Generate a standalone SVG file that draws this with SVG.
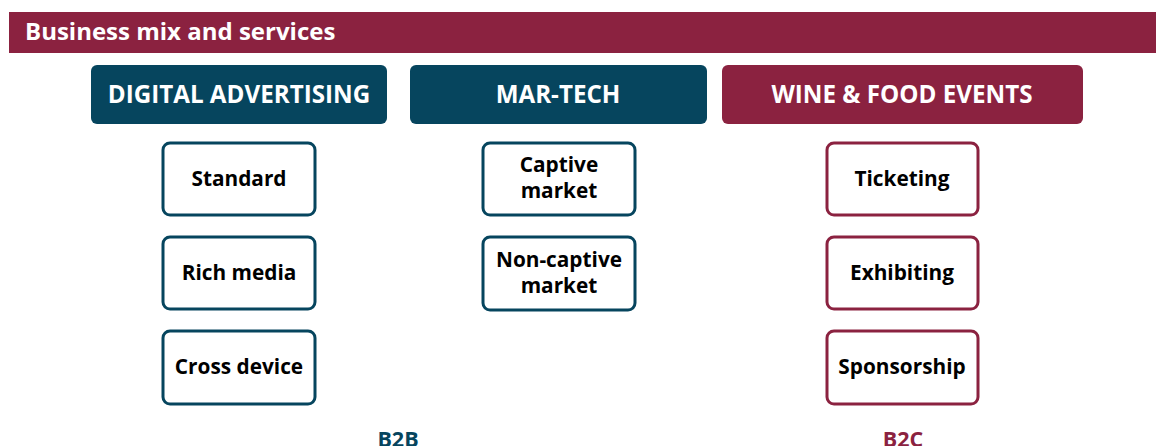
<svg xmlns="http://www.w3.org/2000/svg" width="1156" height="446" viewBox="0 0 1156 446">
  <style>
    text { font-family: "Open Sans", Lato, "Liberation Sans", sans-serif; font-weight: bold; }
    .title { fill: #ffffff; font-size: 24px; }
    .head-text { fill: #ffffff; font-size: 24.2px; text-anchor: middle; }
    .blue { fill: #06455e; }
    .red { fill: #8b2240; }
    .sub-b { fill: #ffffff; stroke: #06455e; stroke-width: 3; }
    .sub-r { fill: #ffffff; stroke: #8b2240; stroke-width: 3; }
    .sub-text { fill: #000000; font-size: 20.8px; text-anchor: middle; }
    .tag { font-size: 21.5px; text-anchor: middle; }
  </style>

  <!-- Title bar -->
  <g id="title">
    <rect x="9" y="12" width="1147" height="41" class="red"/>
    <text x="25" y="40" class="title">Business mix and services</text>
  </g>

  <!-- Column headers -->
  <g id="digital-advertising">
    <rect x="91" y="65" width="296" height="59" rx="6" class="blue"/>
    <text x="239" y="103" class="head-text">DIGITAL ADVERTISING</text>
  </g>
  <g id="mar-tech">
    <rect x="410" y="65" width="297" height="59" rx="6" class="blue"/>
    <text x="558" y="103" class="head-text">MAR-TECH</text>
  </g>
  <g id="wine-food-events">
    <rect x="722" y="65" width="361" height="59" rx="6" class="red"/>
    <text x="902" y="103" class="head-text">WINE &amp; FOOD EVENTS</text>
  </g>

  <!-- Digital advertising services -->
  <g id="standard">
    <rect x="163" y="143" width="152" height="72" rx="7" class="sub-b"/>
    <text x="239" y="186" class="sub-text">Standard</text>
  </g>
  <g id="rich-media">
    <rect x="163" y="237" width="152" height="72" rx="7" class="sub-b"/>
    <text x="239" y="280" class="sub-text">Rich media</text>
  </g>
  <g id="cross-device">
    <rect x="163" y="331" width="152" height="73" rx="7" class="sub-b"/>
    <text x="239" y="374" class="sub-text">Cross device</text>
  </g>

  <!-- Mar-tech services -->
  <g id="captive-market">
    <rect x="483" y="143" width="152" height="72" rx="7" class="sub-b"/>
    <text x="559" y="172" class="sub-text">Captive</text>
    <text x="559" y="198" class="sub-text">market</text>
  </g>
  <g id="non-captive-market">
    <rect x="483" y="237" width="152" height="73" rx="7" class="sub-b"/>
    <text x="559" y="267" class="sub-text">Non-captive</text>
    <text x="559" y="293" class="sub-text">market</text>
  </g>

  <!-- Wine & food events services -->
  <g id="ticketing">
    <rect x="827" y="143" width="151" height="72" rx="7" class="sub-r"/>
    <text x="902" y="186" class="sub-text">Ticketing</text>
  </g>
  <g id="exhibiting">
    <rect x="827" y="237" width="151" height="72" rx="7" class="sub-r"/>
    <text x="902" y="280" class="sub-text">Exhibiting</text>
  </g>
  <g id="sponsorship">
    <rect x="827" y="331" width="151" height="73" rx="7" class="sub-r"/>
    <text x="902" y="374" class="sub-text">Sponsorship</text>
  </g>

  <!-- Segment labels -->
  <g id="b2b">
    <text x="398" y="447" class="tag blue">B2B</text>
  </g>
  <g id="b2c">
    <text x="903" y="447" class="tag red">B2C</text>
  </g>

  <!-- No connectors in this layout -->
  <g id="connectors"/>
</svg>
